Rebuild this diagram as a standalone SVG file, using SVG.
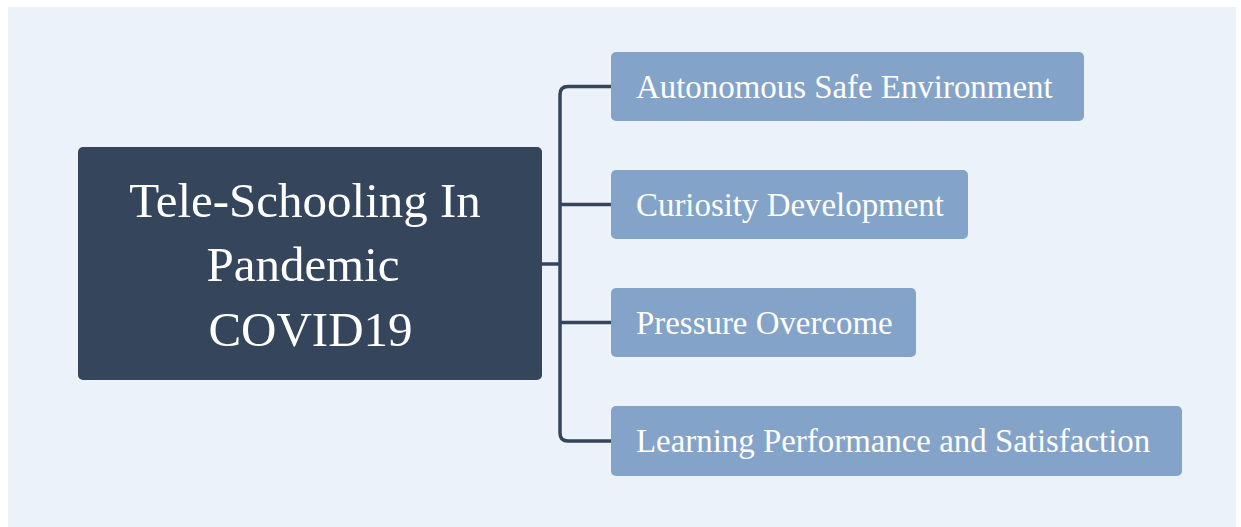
<svg xmlns="http://www.w3.org/2000/svg" width="1241" height="527" viewBox="0 0 1241 527">
<style>
.bg{fill:#ebf2fa}
.root rect{fill:#34455c}
.child rect{fill:#84a3c9}
.rt{font-family:"Liberation Serif","Times New Roman",serif;font-size:49px;fill:#ffffff;text-anchor:middle}
.ct{font-family:"Liberation Serif","Times New Roman",serif;font-size:32.9px;fill:#ffffff}
.conn{fill:none;stroke:#34455c;stroke-width:3.5}
</style>
<rect class="bg" x="8" y="7" width="1228" height="520"/>
<g id="connectors">
<path class="conn" d="M542 264 H560"/>
<path class="conn" d="M611 86.5 H568 Q560 86.5 560 94.5 V433 Q560 441 568 441 H611"/>
<path class="conn" d="M560 204.5 H611"/>
<path class="conn" d="M560 322.5 H611"/>
</g>
<g id="root" class="root">
<rect x="78" y="147" width="464" height="233" rx="5"/>
<text class="rt" x="305" y="217">Tele-Schooling In</text>
<text class="rt" x="303" y="281">Pandemic</text>
<text class="rt" x="310.5" y="345.5">COVID19</text>
</g>
<g id="n1" class="child">
<rect x="611" y="52" width="473" height="69" rx="5"/>
<text class="ct" x="636" y="97.5">Autonomous Safe Environment</text>
</g>
<g id="n2" class="child">
<rect x="611" y="170" width="357" height="69" rx="5"/>
<text class="ct" x="636" y="215.5">Curiosity Development</text>
</g>
<g id="n3" class="child">
<rect x="611" y="288" width="305" height="69" rx="5"/>
<text class="ct" x="636" y="333.5">Pressure Overcome</text>
</g>
<g id="n4" class="child">
<rect x="611" y="406" width="571" height="70" rx="5"/>
<text class="ct" x="636" y="452">Learning Performance and Satisfaction</text>
</g>
</svg>
